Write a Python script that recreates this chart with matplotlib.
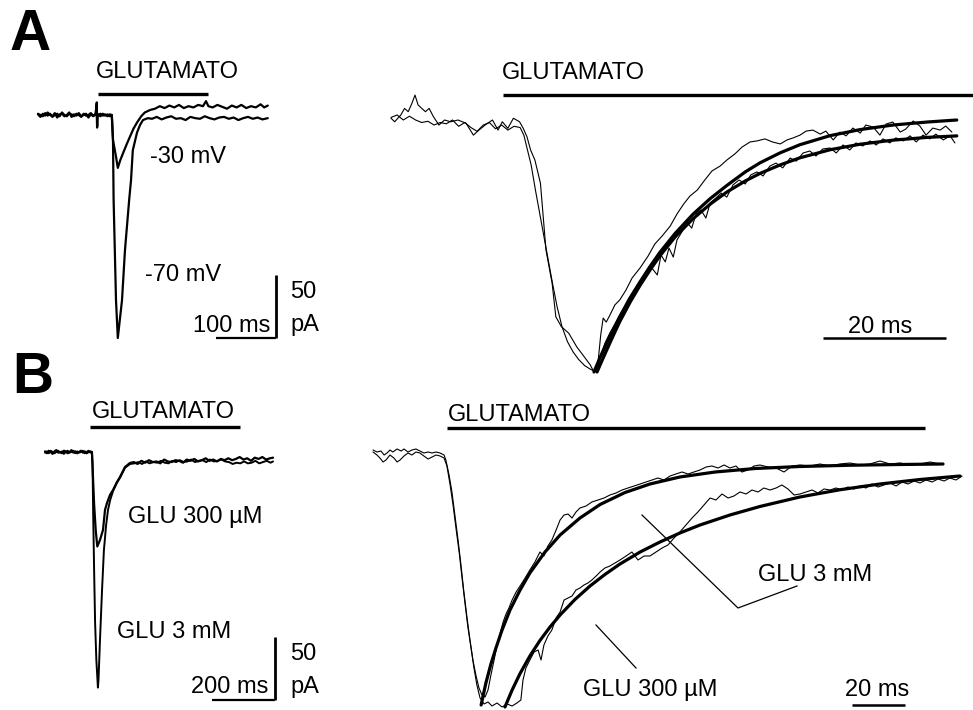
import numpy as np
import matplotlib
matplotlib.use("Agg")
import matplotlib.pyplot as plt

plt.rcParams['font.family'] = ['Liberation Sans', 'DejaVu Sans']

W, H = 973, 710

# ------------------------------------------------------------------ data
# Panel A, left: whole-cell currents (time ms, current pA)
A_LEFT_M70 = [
    (0, 0.5), (4, -1.5), (8, 1), (12, -0.5), (16, 2), (20, 0), (24, -1), (28, 1.5), (32, -2), (36, 0.5),
    (40, 1), (44, -1), (48, 0), (52, 2), (56, -1.5), (60, 0.5), (64, -0.5), (68, 1.5), (72, -1), (76, 0),
    (80, 1), (84, -2), (88, 0.5), (92, -1), (96, 1),
    (98, 10), (98.5, -10), (99, 0),
    (100, 0.5), (104, -1), (108, 1), (112, -0.5), (116, 0.5), (120, -1),
    (123, 0), (125, -20), (126, -67), (128, -107), (130, -147), (133, -177),
    (140, -147), (145, -107), (152, -67), (155, -52), (158, -28), (162, -20), (165, -14), (170, -8), (175, -4), (183, -2.5),
    (190, -3), (198, -1.5), (206, -3.5), (214, -2), (222, -1), (230, -3), (238, -2.5), (246, -4), (254, -1.5), (262, -2.5),
    (270, -3), (278, -1), (286, -2.5), (294, -3.5), (302, -2), (310, -1.5), (318, -3), (326, -2), (334, -4), (342, -2.5),
    (350, -1.5), (358, -3), (366, -2), (374, -3.5), (383, -2.5)]
A_LEFT_M30 = [
    (0, 1), (4, 0), (8, -1), (12, 1.5), (16, -0.5), (20, 1), (24, -1.5), (28, 0), (32, 1), (36, -1),
    (40, 2), (44, 0), (48, -1), (52, 1), (56, 0.5), (60, -1), (64, 1), (68, 0), (72, -1.5), (76, 1),
    (80, -0.5), (84, 0), (88, 1.5), (92, -0.5), (96, 0),
    (98, 9), (98.5, -9), (99, 0),
    (100, 0), (104, 1), (108, -0.5), (112, 0.5), (116, -1), (120, 0.5),
    (123, 0), (125, -20), (130, -33), (133, -42), (137, -36), (142, -30), (148, -23), (153, -17.5), (159, -11),
    (165, -6), (172, -1), (178, 2), (187, 4),
    (195, 5), (203, 7), (211, 5.5), (219, 7.5), (227, 6), (235, 8), (243, 5.5), (251, 7), (259, 6), (267, 8),
    (275, 7), (280, 11), (284, 7), (291, 6), (299, 8), (307, 6.5), (315, 5), (323, 7.5), (331, 6), (339, 8),
    (347, 5.5), (355, 7), (363, 6), (371, 8.5), (377, 6), (383, 7.5)]
A_LEFT_GLU = (100, 283, 16.7)          # start ms, end ms, level pA
A_LEFT_SCALE = (100, 50)               # ms, pA

# Panel A, right: normalised currents (time ms, % of peak) and exponential fits
A_RIGHT_TRACE1 = [
    (0, 0.7), (0.6, -0.7), (1.6, 2.0), (2.2, 4.6), (2.8, 3.3), (3.4, 6.6), (3.9, 9.9), (4.4, 6.0), (5.0, 4.6),
    (5.6, 3.3), (6.2, 4.6), (6.9, 1.3), (7.8, -2.0), (8.7, 0), (9.7, -0.7), (10.9, 0), (12.2, -1.3), (13.4, -6.0),
    (14.3, -4.0), (15.3, -2.0), (16.5, 0), (17.4, -4.0), (18.1, -0.7), (19.0, -3.3), (19.9, 0.7), (20.9, -0.7),
    (21.5, -3.3), (22.1, -6.6), (22.7, -11.9), (23.4, -15.9), (24.3, -25.1), (25.2, -51.6), (26.2, -64.8),
    (26.8, -78.1), (27.7, -82.0), (28.9, -84.6), (30.2, -90.0), (31.4, -93.9), (32.4, -97.2), (33.0, -100),
    (33.7, -95.2), (34.1, -85.3), (34.5, -78.6), (35.0, -80.2), (35.6, -77.4), (36.4, -73.4), (37.2, -71.4),
    (38.2, -67.5), (39.2, -62.7), (40.5, -58.7), (41.8, -54.0), (42.9, -49.2), (44.1, -46.0), (45.4, -42.1),
    (46.5, -37.3), (47.6, -33.3), (48.6, -30.2), (49.8, -27.8), (50.9, -24.2), (52.2, -20.2), (53.5, -18.3),
    (54.6, -15.9), (55.9, -13.5), (57.1, -10.7), (58.4, -8.7), (59.5, -8.3), (60.8, -7.5), (62.0, -8.7),
    (63.3, -9.5), (64.4, -7.9), (65.4, -7.1), (66.5, -6.0), (67.5, -4.4), (68.6, -4.0), (69.8, -5.6),
    (70.7, -4.4), (71.9, -7.9), (73.0, -4.8), (74.0, -6.3), (75.1, -3.2), (76.3, -5.2), (77.2, -2.0),
    (78.4, -2.8), (79.5, -6.0), (80.5, -1.6), (81.6, -0.8), (82.8, -4.8), (83.7, -3.6), (84.9, -0.4),
    (86.0, -2.4), (87.0, -6.0), (88.1, -3.2), (89.3, -4.0), (90.2, -2.4), (91.2, -4.8)]
A_RIGHT_TRACE2 = [
    (0, 1), (1.0, 2), (2.0, 0), (3.0, 1.5), (4.0, 0), (5.0, -1), (6.0, -0.5), (7.0, -2), (8.0, -1), (9.0, -1.5),
    (10.0, 0), (11.0, -2.5), (12.0, -1), (13.0, -3), (14.0, -4.5), (15.0, -2), (16.0, -1), (17.0, -3.5),
    (18.0, -2), (19.0, -4), (20.0, -2.5), (21.0, -3), (21.6, -6), (22.2, -12), (22.8, -18), (23.5, -28),
    (24.4, -40), (25.3, -52), (26.2, -64), (27.0, -74), (27.8, -82), (28.7, -88), (29.6, -92), (30.5, -95),
    (31.5, -97.5), (32.5, -99), (33.5, -100),
    (34.1, -93.3), (34.8, -88.5), (35.6, -84.5), (36.6, -80.2), (37.6, -75.8), (38.5, -71.4), (39.5, -67.5),
    (40.5, -63.9), (41.5, -60.7), (42.4, -58.7), (43.3, -61.5), (43.9, -53.6), (44.6, -56.3), (45.2, -50.8),
    (45.9, -54.4), (46.5, -47.6), (47.3, -44.4), (48.1, -40.5), (48.9, -42.9), (49.6, -37.3), (50.4, -35.7),
    (51.2, -38.9), (51.9, -32.9), (52.8, -31.0), (53.7, -29.0), (54.6, -30.6), (55.6, -25.8), (56.6, -23.8),
    (57.6, -25.4), (58.5, -21.8), (59.5, -20.6), (60.5, -22.2), (61.6, -18.3), (62.6, -17.1), (63.7, -19.0),
    (64.9, -15.1), (65.9, -16.3), (67.0, -13.1), (68.1, -12.3), (69.1, -14.3), (70.2, -11.5), (71.4, -11.1),
    (72.4, -13.1), (73.5, -9.9), (74.6, -11.9), (75.6, -9.1), (76.7, -10.3), (77.9, -8.3), (78.9, -9.9),
    (80.0, -7.5), (81.1, -9.1), (82.1, -7.1), (83.3, -8.3), (84.4, -6.3), (85.4, -8.7), (86.5, -6.0),
    (87.6, -7.5), (88.6, -5.6), (89.8, -7.9), (90.9, -6.3), (91.7, -9.1)]
A_RIGHT_FIT1 = [
    (33.0, -100), (34.0, -94.2), (35.6, -85.8), (37.2, -78.0), (38.9, -70.6), (40.5, -64.2), (42.1, -58.2),
    (43.7, -52.6), (46.2, -45.0), (49.1, -37.4), (51.9, -31.2), (54.6, -26.0), (57.6, -20.6), (60.0, -17.0),
    (63.3, -13.0), (66.5, -9.8), (71.4, -6.2), (76.3, -3.8), (81.6, -2.0), (87.2, -0.8), (92.0, 0.0)]
A_RIGHT_FIT2 = [
    (33.5, -100), (34.5, -94.4), (35.9, -86.8), (37.2, -80.0), (38.9, -72.2), (40.5, -65.6), (42.1, -59.6),
    (43.7, -54.0), (46.2, -46.4), (49.1, -39.2), (51.9, -33.4), (54.6, -28.6), (57.6, -24.2), (60.0, -21.2),
    (63.3, -17.8), (66.5, -15.0), (71.4, -11.8), (76.3, -9.6), (81.6, -8.0), (87.2, -6.9), (92.0, -6.3)]
A_RIGHT_GLU = (18.2, 95, 10)
A_RIGHT_SCALE = 20                     # ms

# Panel B, left: whole-cell currents (time ms, current pA)
B_LEFT_300UM = [
    (0, 0.5), (6, -1), (12, 1), (18, 0), (24, -1.5), (30, 0.5), (36, 1.5), (42, -0.5), (48, 0), (54, -1),
    (60, 1), (66, 0.5), (72, -1), (78, 0), (84, 1.5), (90, -0.5), (96, 0.5), (102, -1), (108, 0), (114, 1),
    (120, -0.5), (126, 0.5), (132, -1), (138, 0), (144, 0.5), (149, 0),
    (152, -18), (156, -42), (161, -62), (166, -75),
    (174.6, -69.8), (184.1, -61.9), (190.5, -46), (196.8, -40.5), (206.3, -34.1), (215.9, -30.2),
    (228.6, -23.8), (238.1, -19.8), (254, -11.9), (269.8, -8.7),
    (282, -8), (294, -9.5), (306, -7), (318, -8.5), (330, -6.5), (342, -8), (354, -7.5), (366, -9), (378, -6),
    (390, -7.5), (402, -8), (414, -6.5), (426, -7), (438, -8.5), (450, -6), (462, -7), (474, -5.5), (486, -7.5),
    (498, -6.5), (510, -5), (522, -7), (534, -6), (546, -7.5), (558, -5.5), (570, -6.5), (582, -5), (594, -6.5),
    (606, -5.5), (618, -4), (630, -6), (642, -5), (654, -7), (666, -4.5), (678, -5.5), (690, -4), (702, -6),
    (714, -5), (724, -4.5)]
B_LEFT_3MM = [
    (0, -0.5), (6, 0.5), (12, -1), (18, 1), (24, 0), (30, -1), (36, 0), (42, 1), (48, -0.5), (54, 0.5),
    (60, -1.5), (66, 0), (72, 1), (78, -0.5), (84, 0), (90, 1), (96, -1), (102, 0.5), (108, -0.5), (114, 0),
    (120, 1), (126, -1), (132, 0), (138, 1), (144, -0.5), (149, 0),
    (151, -10), (153, -50), (156, -95), (159, -135), (163, -165), (168, -187),
    (170, -180), (174.6, -149), (181, -110), (187, -78), (194, -58), (200, -46), (207, -38), (216, -31),
    (228, -24.5), (238, -20.5), (254, -12.5), (270, -9.5),
    (284, -9), (296, -8), (308, -9.5), (320, -7.5), (332, -9), (344, -8), (356, -8.5), (368, -7), (380, -8.5),
    (392, -9), (404, -7), (416, -8), (428, -6.5), (440, -8), (452, -7.5), (464, -6), (476, -8), (488, -7),
    (500, -6.5), (512, -8), (524, -6), (536, -7.5), (548, -7), (560, -6), (572, -7.5), (584, -8), (596, -9.5),
    (608, -8.5), (620, -9), (632, -7.5), (644, -9), (656, -8.5), (668, -7), (680, -9), (692, -8), (704, -7),
    (716, -8.5), (724, -7.5)]
B_LEFT_GLU = (143, 619, 19.8)
B_LEFT_SCALE = (200, 50)

# Panel B, right: normalised currents (time ms, % of peak) and exponential fits
B_RIGHT_3MM = [
    (0, 2.0), (1.5, 1.2), (3.0, 1.6), (4.2, 0), (5.3, 0.8), (6.4, 2.0), (7.5, 1.2), (9.1, 2.4), (10.6, 1.6),
    (11.7, 2.4), (13.2, 1.2), (14.7, 2.0), (16.2, 2.4), (17.7, 1.6), (19.2, 0.8), (20.8, 1.2), (22.3, 0.8),
    (23.8, 1.2), (25.3, 0.8), (26.8, 0),
    (27.5, -2), (28.7, -8), (29.8, -14.8), (30.9, -24), (32.1, -34), (33.2, -44), (34.3, -54.8), (35.5, -65.2),
    (36.6, -74), (37.7, -82), (38.9, -88.4), (40.0, -93.2), (41.1, -96), (42.3, -96.8), (43.4, -94), (44.5, -88),
    (45.7, -82), (46.8, -76),
    (47.9, -71.6), (49.1, -66.8), (50.2, -63.6), (51.3, -61.2), (52.5, -58), (54.0, -54.8), (55.5, -52.4),
    (57.4, -49.2), (59.2, -46), (61.1, -42.8), (63.0, -38.8), (64.5, -40.4), (66.0, -36.4), (67.5, -34),
    (69.1, -30), (70.6, -26), (72.1, -24), (73.6, -23.6), (75.1, -25.2), (76.6, -22.8), (78.1, -21.2),
    (80.4, -20.4), (82.6, -18.8), (84.9, -18), (87.2, -17.2), (89.4, -16), (91.7, -15.2), (94.0, -14),
    (96.2, -13.2), (98.5, -12.4), (100.8, -11.6), (103.0, -10.8), (105.3, -10), (107.5, -9.2), (109.8, -10),
    (112.1, -8.4), (114.3, -7.6), (116.6, -6.8), (118.9, -7.6), (121.1, -6.8), (123.4, -6), (125.7, -4.8),
    (127.9, -4.4), (130.2, -5.2), (132.5, -4), (134.7, -5.2), (137.0, -4.4), (139.2, -6.8), (141.5, -6),
    (143.8, -4.4), (146.0, -4), (149.1, -4.8), (152.1, -5.2), (155.1, -6.8), (158.1, -4.4), (161.1, -4),
    (164.9, -4.4), (168.7, -3.6), (172.5, -4.4), (176.2, -3.6), (180.0, -3.2), (183.8, -4), (187.5, -3.6),
    (191.3, -2.4), (195.1, -3.6), (198.9, -3.2), (202.6, -4), (206.4, -3.6), (210.2, -2.8), (214.0, -3.6)]
B_RIGHT_300UM = [
    (0, 1.2), (1.5, 0), (2.6, -1.2), (3.8, -2.8), (4.9, -2), (6.4, 0), (7.9, -1.2), (9.1, -2.8), (10.2, -2),
    (11.7, -0.4), (13.2, 0.8), (14.7, 0), (16.2, 1.2), (17.7, 0.8), (19.2, -0.4), (20.8, -1.6), (22.3, -0.8),
    (23.8, 0), (25.3, -0.4), (26.8, -1.2),
    (27.9, -4.4), (29.1, -12), (30.2, -20), (31.3, -29.2), (32.5, -38.8), (33.6, -49.2), (34.7, -59.2),
    (35.8, -68.8), (37.0, -77.2), (38.1, -85.2), (39.2, -92), (40.4, -97.2), (41.9, -99.6), (43.4, -98.8),
    (44.9, -100.4), (46.8, -99.2), (48.7, -100.8), (50.6, -99.6), (52.5, -100.4), (54.3, -99.2), (55.8, -98),
    (56.6, -90), (57.7, -85.2), (59.2, -82), (60.8, -78.8), (62.3, -78), (63.4, -82), (64.5, -76), (66.0, -72.4),
    (67.5, -70), (69.1, -65.2), (70.6, -62.8), (72.1, -58), (73.6, -57.2), (75.1, -56.4), (76.6, -54),
    (78.1, -53.2), (79.6, -52), (81.1, -51.2), (82.6, -50), (84.2, -48.4), (85.7, -46.8), (87.5, -45.2),
    (89.4, -44.4), (91.3, -43.2), (93.2, -42), (95.5, -40.4), (97.7, -38.8), (100.0, -42), (102.3, -40.4),
    (104.5, -40.4), (106.8, -38.8), (109.1, -37.2), (111.3, -36), (113.6, -33.2), (115.8, -30.8), (118.1, -28),
    (120.4, -25.2), (122.6, -22.8), (124.9, -20), (127.2, -17.2), (129.4, -18), (131.7, -15.6), (134.0, -17.2),
    (136.2, -16.4), (138.5, -14.8), (140.8, -15.6), (143.0, -14), (145.3, -14.8), (147.5, -13.2), (149.8, -14),
    (152.1, -13.2), (154.3, -12), (156.6, -13.6), (158.9, -16), (161.1, -15.6), (163.4, -14.8), (165.7, -14),
    (167.9, -15.2), (170.2, -13.6), (172.5, -14), (174.7, -13.2), (177.0, -14), (179.2, -12.8), (181.5, -13.6),
    (183.8, -12.4), (186.0, -13.2), (188.3, -11.6), (190.6, -12.8), (192.8, -12), (195.1, -11.2), (197.4, -12.4),
    (199.6, -10.8), (201.9, -11.6), (204.2, -10.4), (206.4, -11.2), (208.7, -10), (211.0, -10.8), (213.2, -9.6),
    (215.5, -10.4), (217.7, -9.2), (220.0, -10), (222.3, -8.4)]
B_RIGHT_FIT_3MM = [
    (40.8, -100), (42.6, -91.2), (44.5, -83.6), (46.4, -77.2), (48.7, -70), (51.7, -62), (55.5, -54),
    (59.2, -47.2), (64.9, -38.8), (70.6, -32), (78.1, -25.2), (85.7, -19.8), (95.1, -15.0), (104.5, -11.6),
    (115.8, -8.8), (129.1, -6.8), (144.2, -5.4), (161.1, -4.6), (180.0, -4.1), (198.9, -3.8), (215.1, -3.6)]
B_RIGHT_FIT_300UM = [
    (49.8, -100.8), (52.5, -94.0), (55.5, -87.4), (59.2, -80.4), (63.0, -74.2), (66.8, -68.8), (70.6, -64.0),
    (76.2, -57.8), (81.9, -52.4), (87.5, -47.8), (93.2, -43.6), (100.8, -38.8), (108.3, -34.8), (115.8, -31.2),
    (123.4, -28.0), (134.7, -24.0), (146.0, -20.6), (161.1, -16.8), (176.2, -13.9), (191.3, -11.6),
    (206.4, -9.8), (221.5, -8.4)]
B_RIGHT_GLU = (27.9, 208.3, 10.8)
B_RIGHT_SCALE = 20

# ------------------------------------------------------------------ drawing
fig = plt.figure(figsize=(W / 100, H / 100), dpi=100)
fig.patch.set_facecolor('white')


def panel(x0, y0, sx, sy):
    """Axes over the whole figure; data origin at pixel (x0, y0), sx px per x unit, sy px per y unit."""
    ax = fig.add_axes([0, 0, 1, 1])
    ax.set_xlim(-x0 / sx, (W - x0) / sx)
    ax.set_ylim((y0 - H) / sy, y0 / sy)
    ax.set_axis_off()
    ax.patch.set_alpha(0)
    return ax


def trace(ax, pairs, lw):
    arr = np.array(pairs, dtype=float)
    ax.plot(arr[:, 0], arr[:, 1], color='black', lw=lw,
            solid_joinstyle='round', solid_capstyle='round')


def bar(ax, spec, lw=2.4):
    t0, t1, level = spec
    ax.plot([t0, t1], [level, level], color='black', lw=lw, solid_capstyle='butt')


def txt(x, y, s, ha='left', size=17, **kw):
    fig.text(x / W, 1 - y / H, s, ha=ha, va='baseline', fontsize=size, color='black', **kw)


# Panel A left
axAL = panel(38, 115, 0.6, 1.26)
trace(axAL, A_LEFT_M70, 1.6)
trace(axAL, A_LEFT_M30, 1.6)
bar(axAL, A_LEFT_GLU)
sx_ms, sy_pA = A_LEFT_SCALE
axAL.plot([396 - sx_ms, 396], [-177, -177], color='black', lw=1.6, solid_capstyle='butt')
axAL.plot([396, 396], [-177, -177 + sy_pA], color='black', lw=2.0, solid_capstyle='butt')

# Panel A right
axAR = panel(391, 120, 6.15, 2.52)
trace(axAR, A_RIGHT_TRACE1, 0.8)
trace(axAR, A_RIGHT_TRACE2, 0.8)
trace(axAR, A_RIGHT_FIT1, 2.3)
trace(axAR, A_RIGHT_FIT2, 2.3)
bar(axAR, A_RIGHT_GLU)
axAR.plot([70.2, 70.2 + A_RIGHT_SCALE], [-86.5, -86.5], color='black', lw=1.8, solid_capstyle='butt')

# Panel B left
axBL = panel(45, 452, 0.315, 1.26)
trace(axBL, B_LEFT_300UM, 1.6)
trace(axBL, B_LEFT_3MM, 1.4)
bar(axBL, B_LEFT_GLU)
sx_ms, sy_pA = B_LEFT_SCALE
axBL.plot([730 - sx_ms, 730], [-197, -197], color='black', lw=1.6, solid_capstyle='butt')
axBL.plot([730, 730], [-197, -197 + sy_pA], color='black', lw=2.0, solid_capstyle='butt')

# Panel B right
axBR = panel(373, 455, 2.65, 2.5)
trace(axBR, B_RIGHT_3MM, 0.8)
trace(axBR, B_RIGHT_300UM, 0.8)
trace(axBR, B_RIGHT_FIT_3MM, 2.3)
trace(axBR, B_RIGHT_FIT_300UM, 2.3)
bar(axBR, B_RIGHT_GLU)
axBR.plot([180.8, 180.8 + B_RIGHT_SCALE], [-100, -100], color='black', lw=1.8, solid_capstyle='butt')

# leader lines (figure pixel space)
axPX = panel(0, 0, 1, 1)
axPX.plot([642, 738, 797], [-515, -608, -586], color='black', lw=0.9)
axPX.plot([596, 636], [-625, -668], color='black', lw=0.9)

# ------------------------------------------------------------------ text
txt(10, 50, 'A', size=41, weight='bold')
txt(12, 393, 'B', size=41, weight='bold')

txt(167, 78, 'GLUTAMATO', ha='center')
txt(502, 79, 'GLUTAMATO')
txt(163, 418, 'GLUTAMATO', ha='center')
txt(448, 421, 'GLUTAMATO')

txt(150, 163, '-30 mV')
txt(145, 281, '-70 mV')
txt(270, 332, '100 ms', ha='right')
txt(290, 298, '50')
txt(290, 331, 'pA')
txt(880, 333, '20 ms', ha='center')

txt(128, 523, 'GLU 300 µM')
txt(117, 638, 'GLU 3 mM')
txt(268, 693, '200 ms', ha='right')
txt(290, 660, '50')
txt(290, 693, 'pA')

txt(758, 581, 'GLU 3 mM')
txt(583, 696, 'GLU 300 µM')
txt(877, 696, '20 ms', ha='center')

fig.savefig('out.png', dpi=100, facecolor='white')
